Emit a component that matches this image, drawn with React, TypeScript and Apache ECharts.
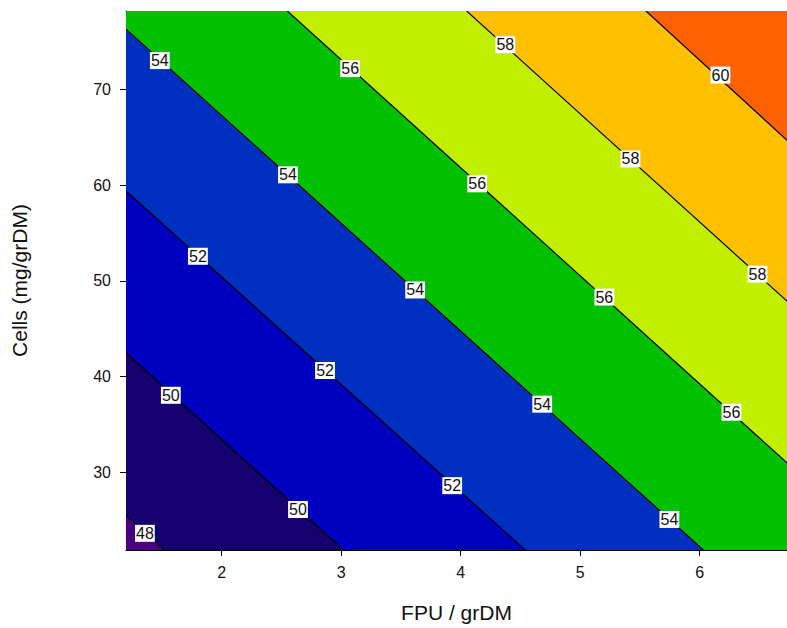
import React, { useEffect, useRef } from "react";
import * as echarts from "echarts";

// Axis ranges (data units)
const xRange = [1.2, 6.73];
const yRange = [21.9, 78.2];
const xTicks = [2, 3, 4, 5, 6];
const yTicks = [30, 40, 50, 60, 70];

// Contour levels and their lines (start/end points, data units)
const levels = [48, 50, 52, 54, 56, 58, 60];
const lineStartX = [1.2, 1.2, 1.2, 1.2, 2.55, 4.05, 5.55];
const lineStartY = [25.5, 42.5, 59.4, 76.3, 78.2, 78.2, 78.2];
const lineEndX = [1.52, 3.02, 4.54, 6.03, 6.73, 6.73, 6.73];
const lineEndY = [21.9, 21.9, 21.9, 21.9, 31.0, 47.9, 64.7];

// Band colours: below 48, 48-50, ..., above 60
const bandColors = ["#4a0080", "#150070", "#0000c0", "#0030c0", "#00c000", "#c2ee00", "#ffc000", "#ff6000"];

// Contour labels (level, x, y)
const labelLevels = [54, 54, 54, 54, 54, 56, 56, 56, 56, 58, 58, 58, 60, 52, 52, 52, 50, 50, 48];
const labelX = [1.483, 2.555, 3.619, 4.682, 5.746, 3.075, 4.138, 5.202, 6.265, 4.373, 5.42, 6.483, 6.173, 1.802, 2.865, 3.929, 1.575, 2.639, 1.358];
const labelY = [73.02, 61.09, 49.06, 37.13, 25.09, 72.18, 60.15, 48.32, 36.29, 74.68, 62.75, 50.72, 71.51, 52.58, 40.65, 28.62, 38.06, 26.13, 23.64];

const FONT = "'Liberation Sans', Arial, sans-serif";

function bandPolygon(k: number): number[][] {
  const [x0, x1] = xRange;
  const [y0, y1] = yRange;
  if (k >= levels.length) {
    return [[x0, y0], [x1, y0], [x1, y1], [x0, y1]];
  }
  const pts: number[][] = [[lineStartX[k], lineStartY[k]], [lineEndX[k], lineEndY[k]]];
  if (lineEndX[k] >= x1 - 1e-6 && lineEndY[k] > y0 + 1e-6) pts.push([x1, y0]);
  pts.push([x0, y0]);
  if (lineStartY[k] >= y1 - 1e-6 && lineStartX[k] > x0 + 1e-6) pts.push([x0, y1]);
  return pts;
}

export default function App() {
  const ref = useRef<HTMLDivElement>(null);
  useEffect(() => {
    if (!ref.current) return;
    const chart = echarts.init(ref.current, null, { renderer: "svg" });
    const bandOrder = [7, 6, 5, 4, 3, 2, 1, 0];
    const option: any = {
      animation: false,
      backgroundColor: "#ffffff",
      grid: { left: 126, right: 0, top: 11, bottom: 74, containLabel: false },
      xAxis: [
        {
          type: "value",
          min: xRange[0],
          max: xRange[1],
          position: "bottom",
          name: "FPU / grDM",
          nameLocation: "middle",
          nameGap: 52,
          nameTextStyle: { fontSize: 21, color: "#111", fontFamily: FONT },
          axisLine: { show: true, onZero: false, lineStyle: { color: "#000", width: 1 } },
          axisTick: { show: true, length: 6, customValues: xTicks, lineStyle: { color: "#000" } },
          axisLabel: { customValues: xTicks, margin: 14, fontSize: 16, color: "#111", fontFamily: FONT },
          splitLine: { show: false },
        },
        {
          type: "value",
          min: xRange[0],
          max: xRange[1],
          position: "top",
          axisLine: { show: true, onZero: false, lineStyle: { color: "#000", width: 1 } },
          axisTick: { show: false },
          axisLabel: { show: false },
          splitLine: { show: false },
        },
      ],
      yAxis: {
        type: "value",
        min: yRange[0],
        max: yRange[1],
        name: "Cells (mg/grDM)",
        nameLocation: "middle",
        nameGap: 96,
        nameTextStyle: { fontSize: 21, color: "#111", fontFamily: FONT },
        axisLine: { show: true, onZero: false, lineStyle: { color: "#000", width: 1 } },
        axisTick: { show: true, length: 6, customValues: yTicks, lineStyle: { color: "#000" } },
        axisLabel: { customValues: yTicks, margin: 15, fontSize: 16, color: "#111", fontFamily: FONT },
        splitLine: { show: false },
      },
      series: [
        {
          type: "custom",
          clip: true,
          z: 1,
          data: bandOrder.map((k) => [k]),
          renderItem: (params: any, api: any) => {
            const k = api.value(0);
            const pts = bandPolygon(k).map((p) => api.coord(p));
            return { type: "polygon", shape: { points: pts }, style: { fill: bandColors[k], stroke: null } };
          },
        },
        {
          type: "custom",
          clip: true,
          z: 2,
          data: levels.map((_, i) => [i]),
          renderItem: (params: any, api: any) => {
            const i = api.value(0);
            const a = api.coord([lineStartX[i], lineStartY[i]]);
            const b = api.coord([lineEndX[i], lineEndY[i]]);
            return { type: "polyline", shape: { points: [a, b] }, style: { stroke: "#000", lineWidth: 1.2, fill: null } };
          },
        },
        {
          type: "custom",
          clip: true,
          z: 3,
          data: labelLevels.map((_, i) => [labelX[i], labelY[i], labelLevels[i]]),
          renderItem: (params: any, api: any) => {
            const p = api.coord([api.value(0), api.value(1)]);
            return {
              type: "text",
              x: p[0],
              y: p[1],
              style: {
                text: String(api.value(2)),
                fill: "#111",
                font: `16px ${FONT}`,
                align: "center",
                verticalAlign: "middle",
                backgroundColor: "#ffffff",
                padding: [1, 1, 0, 1],
              },
            };
          },
        },
      ],
    };
    chart.setOption(option);
    return () => chart.dispose();
  }, []);
  return (
    <div
      ref={ref}
      style={{ position: "absolute", left: 0, top: 0, width: 787, height: 628 }}
    />
  );
}
